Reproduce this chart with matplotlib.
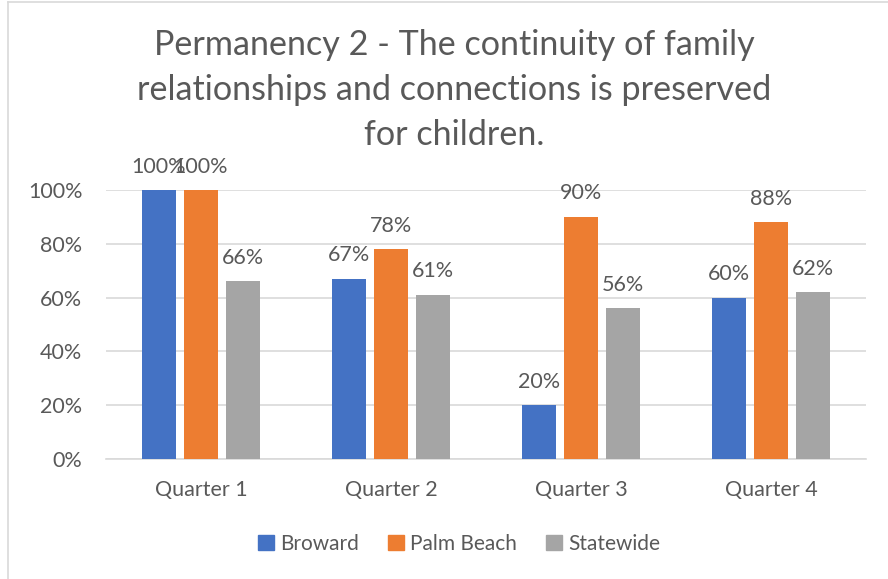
import numpy as np
import matplotlib.pyplot as plt
from matplotlib.lines import Line2D

# Data
quarters = ["Quarter 1", "Quarter 2", "Quarter 3", "Quarter 4"]
broward = [1.00, 0.67, 0.20, 0.60]
palm_beach = [1.00, 0.78, 0.90, 0.88]
statewide = [0.66, 0.61, 0.56, 0.62]
series_names = ["Broward", "Palm Beach", "Statewide"]
colors = ["#4472C4", "#ED7D31", "#A5A5A5"]

plt.rcParams['font.family'] = ['Lato', 'DejaVu Sans']
txt = '#595959'

fig = plt.figure(figsize=(8.88, 5.79), dpi=100)
ax = fig.add_axes([106/888, 1 - 459/579, 760/888, 269/579])

x = np.arange(len(quarters))
width = 0.174
step = 0.221
for i, (vals, name, c) in enumerate(zip([broward, palm_beach, statewide], series_names, colors)):
    pos = x + (i - 1) * step
    ax.bar(pos, vals, width, color=c, label=name, zorder=3)
    for px, v in zip(pos, vals):
        ax.text(px, v + 0.05, f"{v*100:.0f}%", ha='center', va='bottom',
                fontsize=15.5, color=txt, clip_on=False)

ax.set_xlim(-0.5, 3.5)
ax.set_ylim(0, 1)
ax.set_yticks(np.arange(0, 1.01, 0.2))
ax.set_yticklabels([f"{int(t*100)}%" for t in np.arange(0, 1.01, 0.2)])
ax.set_xticks(x)
ax.set_xticklabels(quarters)
ax.tick_params(axis='both', length=0, labelsize=15.5, colors=txt)
ax.tick_params(axis='y', pad=17)
ax.tick_params(axis='x', pad=15)
ax.grid(axis='y', color='#D9D9D9', linewidth=1.2, zorder=0)
for s in ['top', 'right', 'left']:
    ax.spines[s].set_visible(False)
ax.spines['bottom'].set_color('#D9D9D9')
ax.spines['bottom'].set_linewidth(1.2)

fig.suptitle("Permanency 2 - The continuity of family\nrelationships and connections is preserved\nfor children.",
             x=454/888, y=1 - 29/579, fontsize=24.6, color=txt, va='top', linespacing=1.5)

handles = [plt.Rectangle((0, 0), 1, 1, color=c) for c in colors]
fig.legend(handles, series_names, loc='center', bbox_to_anchor=(459/888, 1 - 544/579),
           ncol=3, frameon=False, fontsize=15, labelcolor=txt, handlelength=0.75,
           handleheight=0.75, handletextpad=0.3, columnspacing=1.4)

# chart frame
fig.add_artist(Line2D([8/888, 8/888], [0, 1 - 2/579], color='#D9D9D9', linewidth=1.2))
fig.add_artist(Line2D([8/888, 1], [1 - 2/579, 1 - 2/579], color='#D9D9D9', linewidth=1.2))

fig.savefig("out.png", dpi=100)
